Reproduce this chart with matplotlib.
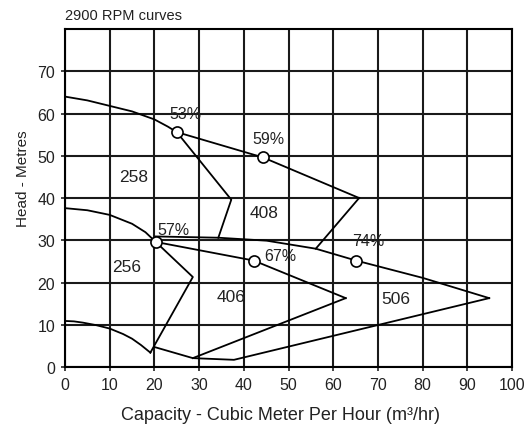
import matplotlib
matplotlib.use("Agg")
import matplotlib.pyplot as plt

plt.rcParams['font.family'] = ['Liberation Sans', 'DejaVu Sans']

# --- curve data (capacity m3/hr, head m) ---
top_q = [0, 5, 10, 15, 20, 23, 25, 44.3, 65.8]
top_h = [64.0, 63.1, 61.8, 60.5, 58.6, 56.9, 55.6, 49.6, 40.0]

b258_q = [25, 37.2, 34.3]
b258_h = [55.6, 39.6, 30.6]

b408_q = [65.8, 56.1]
b408_h = [40.0, 28.0]

mid_q = [0, 5, 10, 15, 18, 20.3]
mid_h = [37.6, 37.1, 36.0, 33.9, 31.9, 29.6]

b256_q = [20.3, 28.6, 19.1]
b256_h = [29.6, 21.3, 3.4]

low_q = [0, 2, 4, 7, 10, 13, 15, 17, 19.1]
low_h = [10.9, 10.8, 10.5, 9.9, 9.1, 7.8, 6.7, 5.2, 3.4]

max406_q = [20.3, 42.2, 62.8]
max406_h = [29.6, 25.2, 16.3]

min406_q = [28.6, 62.8]
min406_h = [2.1, 16.3]

max506_q = [20.3, 34.3, 45.1, 56.1, 65.1, 80, 94.9]
max506_h = [30.9, 30.6, 29.9, 28.0, 25.2, 21.1, 16.3]

min506_q = [20.1, 28.6, 37.8, 94.9]
min506_h = [4.7, 2.1, 1.7, 16.3]

# efficiency points
eff_q = [25, 44.3, 20.3, 42.2, 65.1]
eff_h = [55.6, 49.6, 29.6, 25.2, 25.2]
eff_labels = ['53%', '59%', '57%', '67%', '74%']
eff_lab_q = [26.9, 45.5, 24.3, 48.1, 67.9]
eff_lab_h = [59.9, 54.0, 32.5, 26.4, 29.9]

# impeller / model labels
model_labels = ['258', '408', '256', '406', '506']
model_q = [15.4, 44.5, 13.8, 37.1, 74.0]
model_h = [45.1, 36.6, 23.9, 16.6, 16.3]

fig = plt.figure(figsize=(5.24, 4.27), dpi=100)
ax = fig.add_axes([65 / 524, 59 / 427, 447 / 524, 338 / 427])

lw = 1.3
for q, h in [(top_q, top_h), (b258_q, b258_h), (b408_q, b408_h),
             (mid_q, mid_h), (b256_q, b256_h), (low_q, low_h),
             (max406_q, max406_h), (min406_q, min406_h),
             (max506_q, max506_h), (min506_q, min506_h)]:
    ax.plot(q, h, color='black', lw=lw, zorder=3)

ax.plot(eff_q, eff_h, 'o', ms=8, mfc='white', mec='black', mew=1.2,
        ls='none', zorder=4)

for t, q, h in zip(eff_labels, eff_lab_q, eff_lab_h):
    ax.text(q, h, t, ha='center', va='center', fontsize=11.5, color='#222222', zorder=5)
for t, q, h in zip(model_labels, model_q, model_h):
    ax.text(q, h, t, ha='center', va='center', fontsize=12.5, color='#222222', zorder=5)

ax.set_xlim(0, 100)
ax.set_ylim(0, 80)
ax.set_xticks(range(0, 101, 10))
ax.set_yticks(range(0, 71, 10))
ax.grid(True, color='#1a1a1a', lw=1.5)
ax.set_axisbelow(True)
for s in ax.spines.values():
    s.set_linewidth(1.5)
ax.tick_params(labelsize=11.5, length=3, width=1.2, pad=4, colors='#222222')

ax.set_xlabel('Capacity - Cubic Meter Per Hour (m³/hr)', fontsize=13, color='#222222')
ax.xaxis.set_label_coords(0.482, -0.115)
ax.set_ylabel('Head - Metres', fontsize=11, color='#222222')
ax.yaxis.set_label_coords(-0.078, 0.559)
ax.set_title('2900 RPM curves', loc='left', fontsize=10.5, pad=7, color='#222222')

fig.savefig('out.png', dpi=100)
